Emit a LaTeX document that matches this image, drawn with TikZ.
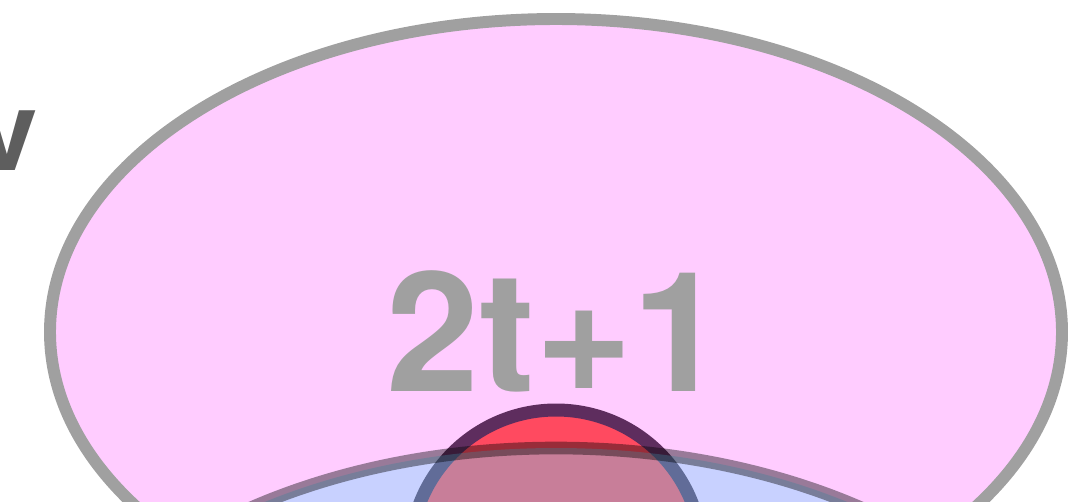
\documentclass[tikz,border=0pt]{standalone}
\usepackage{fontspec}
\setmainfont{TeX Gyre Heros}
\usepackage{xcolor}
\usepackage{tikz}
\usetikzlibrary{positioning}
\definecolor{outerpink}{RGB}{255,204,255}
\definecolor{rimgray}{RGB}{160,160,160}
\definecolor{coinred}{RGB}{255,74,96}
\definecolor{coinrim}{RGB}{94,45,94}
\definecolor{bluetint}{RGB}{103,220,255}
\colorlet{vgray}{black!63}

\begin{document}
\begin{tikzpicture}[x=0.02cm, y=-0.02cm]
  \useasboundingbox (0,0) rectangle (1072,501);
  \clip (0,0) rectangle (1072,501);
  \draw[rimgray, fill=outerpink, line width=6.8pt] (556,332) ellipse [x radius=506, y radius=313];
  \node[anchor=base, text=rimgray, font=\fontsize{95}{95}\selectfont\bfseries] (degree) at (556,391) {2t+1};
  \node[anchor=base, text=vgray, font=\fontsize{63}{63}\selectfont\bfseries] (vlabel) at (7,170) {v};
  \draw[draw=coinrim, fill=coinred, line width=7.4pt] (556,556) circle [radius=146];
  \draw[draw=black, draw opacity=0.4, fill=bluetint, fill opacity=0.36, line width=7.2pt] (556,783) ellipse [x radius=535, y radius=335];
\end{tikzpicture}
\end{document}
